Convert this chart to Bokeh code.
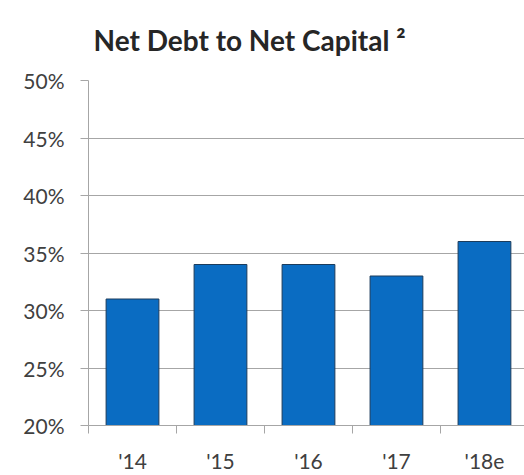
from bokeh.plotting import figure
from bokeh.models import Range1d, FixedTicker, ColumnDataSource
from bokeh.embed import file_html
from bokeh.resources import INLINE

title_text = "Net Debt to Net Capital \u00b2"
categories = ["'14", "'15", "'16", "'17", "'18e"]
values = [31, 34, 34, 33, 36]
y_ticks = [20, 25, 30, 35, 40, 45, 50]
y_labels = ["20%", "25%", "30%", "35%", "40%", "45%", "50%"]

centers = [i + 0.5 for i in range(len(categories))]
src = ColumnDataSource(dict(x=centers, top=values))

FONT = "Lato"
TXT = "#404040"
GRID = "#a6a6a6"

p = figure(width=524, height=475, output_backend="svg", toolbar_location=None,
           x_range=Range1d(0, 4.955), y_range=Range1d(20, 50),
           min_border_left=88, min_border_right=0, min_border_top=68, min_border_bottom=45,
           title=title_text)
p.outline_line_color = None
p.background_fill_color = "white"
p.border_fill_color = "white"

p.title.text_font = FONT
p.title.text_font_size = "28px"
p.title.text_font_style = "bold"
p.title.text_color = "#262626"
p.title.text_line_height = 0.6
p.title.align = "left"
p.title.vertical_align = "top"
p.title.offset = 5
p.title.standoff = 44

p.vbar(x="x", top="top", bottom=20, width=0.6, source=src,
       fill_color="#0a6cc2", line_color="#1c3c5c", line_width=1)

# y axis
p.yaxis.ticker = FixedTicker(ticks=y_ticks)
p.yaxis.major_label_overrides = {t: l for t, l in zip(y_ticks, y_labels)}
p.yaxis.axis_line_color = GRID
p.yaxis.major_tick_line_color = GRID
p.yaxis.major_tick_out = 8
p.yaxis.major_tick_in = 0
p.yaxis.minor_tick_line_color = None
p.yaxis.major_label_text_font = FONT
p.yaxis.major_label_text_font_size = "21px"
p.yaxis.major_label_text_color = TXT
p.yaxis.major_label_standoff = 16

# x axis
p.xaxis.ticker = FixedTicker(ticks=centers, minor_ticks=list(range(len(categories) + 1)))
p.xaxis.major_label_overrides = {c: l for c, l in zip(centers, categories)}
p.xaxis.axis_line_color = GRID
p.xaxis.major_tick_line_color = None
p.xaxis.major_tick_out = 0
p.xaxis.minor_tick_line_color = GRID
p.xaxis.minor_tick_out = 8
p.xaxis.minor_tick_in = 0
p.xaxis.major_label_text_font = FONT
p.xaxis.major_label_text_font_size = "21px"
p.xaxis.major_label_text_color = TXT
p.xaxis.major_label_standoff = 14

p.xgrid.grid_line_color = None
p.ygrid.grid_line_color = GRID
p.ygrid.grid_line_width = 1

open("out.html", "w").write(file_html(p, INLINE))
